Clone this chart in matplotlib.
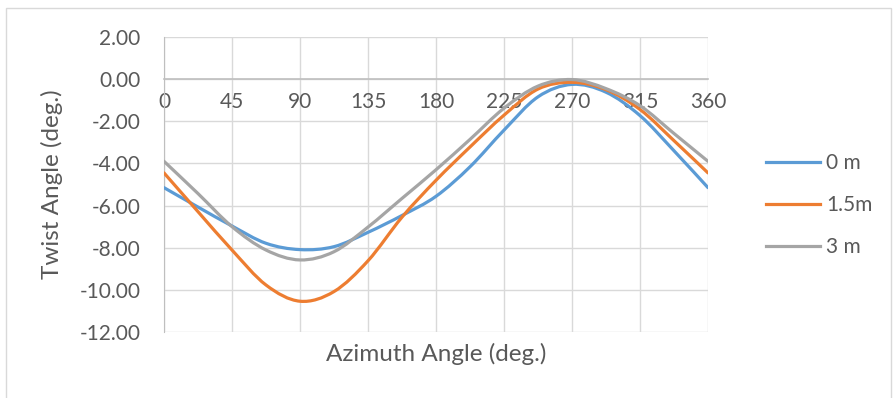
import numpy as np
import matplotlib
matplotlib.use("Agg")
import matplotlib.pyplot as plt
from matplotlib.path import Path
from matplotlib.patches import PathPatch, Rectangle
from matplotlib.lines import Line2D

# Twist angle vs. azimuth for three heights
azimuth = [0, 22.5, 45, 67.5, 90, 112.5, 135, 157.5, 180,
           202.5, 225, 247.5, 270, 292.5, 315, 337.5, 360]
twist_0m = [-5.15, -6.07, -6.97, -7.79, -8.09, -7.95, -7.27, -6.47, -5.56,
            -4.16, -2.42, -0.84, -0.25, -0.62, -1.73, -3.40, -5.15]
twist_1_5m = [-4.45, -6.29, -8.11, -9.77, -10.54, -10.08, -8.62, -6.55, -4.80,
              -3.22, -1.71, -0.47, -0.15, -0.50, -1.44, -2.92, -4.45]
twist_3m = [-3.90, -5.43, -7.00, -8.11, -8.58, -8.19, -7.02, -5.66, -4.30,
            -2.86, -1.38, -0.33, -0.02, -0.45, -1.26, -2.58, -3.90]

series_names = ["0 m", "1.5m", "3 m"]
series_colors = ["#5b9bd5", "#ed7d31", "#a5a5a5"]
x_ticks = [0, 45, 90, 135, 180, 225, 270, 315, 360]
y_ticks = [-12, -10, -8, -6, -4, -2, 0, 2]

TEXT = "#595959"
GRID = "#d9d9d9"
FONT = "Lato"
FS = 15
TITLE_FS = 17.5


def smooth_path(x, y):
    """Cubic Bezier path through the points (Catmull-Rom style smoothing)."""
    pts = np.column_stack([x, y]).astype(float)
    ext = np.vstack([pts[0], pts, pts[-1]])
    verts = [pts[0]]
    codes = [Path.MOVETO]
    for i in range(len(pts) - 1):
        p0, p1, p2, p3 = ext[i], ext[i + 1], ext[i + 2], ext[i + 3]
        c1 = p1 + (p2 - p0) / 6.0
        c2 = p2 - (p3 - p1) / 6.0
        verts += [c1, c2, p2]
        codes += [Path.CURVE4] * 3
    return Path(verts, codes)


fig = plt.figure(figsize=(8.96, 3.98), dpi=100)
fig.patches.append(Rectangle((6 / 896, -0.05), 885 / 896, 1 - 8 / 398 + 0.05,
                             transform=fig.transFigure, fill=False,
                             edgecolor=GRID, lw=1.0))

ax = fig.add_axes([164 / 896, 1 - 332 / 398, (708 - 164) / 896, (332 - 37) / 398])
ax.set_xlim(0, 360)
ax.set_ylim(-12, 2)
ax.set_xticks(x_ticks)
ax.set_yticks(y_ticks)
ax.set_xticklabels([str(t) for t in x_ticks])
ax.set_yticklabels([f"{t:.2f}" for t in y_ticks])
ax.grid(True, color=GRID, lw=1.0, zorder=0)
ax.set_axisbelow(True)

for side in ["top", "right"]:
    ax.spines[side].set_visible(False)
ax.spines["left"].set_color("#bfbfbf")
ax.spines["bottom"].set_position(("data", 0))
ax.spines["bottom"].set_color("#bfbfbf")
ax.spines["bottom"].set_linewidth(1.2)

ax.tick_params(axis="both", length=0, labelsize=FS, labelcolor=TEXT)
ax.tick_params(axis="x", pad=9)
ax.tick_params(axis="y", pad=17)
for lbl in ax.get_xticklabels() + ax.get_yticklabels():
    lbl.set_fontfamily(FONT)

for ys, c in zip([twist_0m, twist_1_5m, twist_3m], series_colors):
    ax.add_patch(PathPatch(smooth_path(azimuth, ys), fill=False, edgecolor=c,
                           lw=2.3, capstyle="round", joinstyle="round", zorder=3))

ax.set_ylabel("Twist Angle (deg.)", fontsize=TITLE_FS, color=TEXT, family=FONT,
              labelpad=12)
ax.text(0.5, -0.075, "Azimuth Angle (deg.)", transform=ax.transAxes,
        ha="center", va="center", fontsize=TITLE_FS, color=TEXT, family=FONT)

handles = [Line2D([], [], color=c, lw=2.3) for c in series_colors]
leg = fig.legend(handles, series_names, loc="center left",
                 bbox_to_anchor=(766 / 896, 1 - 205 / 398),
                 frameon=False, borderpad=0, borderaxespad=0,
                 handlelength=2.6, handletextpad=0.3, labelspacing=1.05,
                 prop={"family": FONT, "size": FS})
for t in leg.get_texts():
    t.set_color(TEXT)

fig.savefig("out.png", dpi=100, facecolor="white")
